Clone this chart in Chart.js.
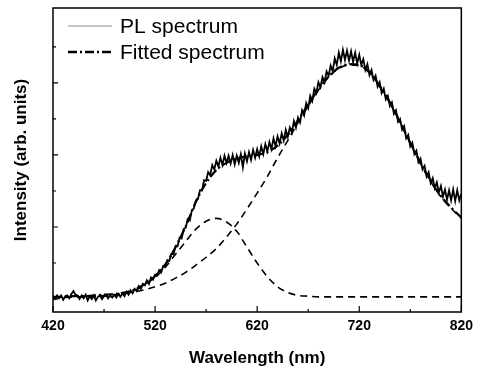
<!DOCTYPE html>
<html>
<head>
<meta charset="utf-8">
<script src="https://cdn.jsdelivr.net/npm/chart.js@4"></script>
<style>
  body { margin: 0; background: #fff; }
  #wrap { width: 479px; height: 370px; }
</style>
</head>
<body>
<div id="wrap"><canvas id="plChart" width="479" height="370"></canvas></div>
<script>
// PL spectrum, sampled every 2 nm from 420 to 820 nm
const plStart = 420;
const plStep = 2;
const plIntensity = [
  0.03, 0.00, 0.05, 0.01, 0.05, -0.01, 0.04, 0.05, 0.01, 0.07,
  0.11, 0.06, 0.05, 0.00, 0.05, 0.01, 0.06, -0.02, 0.04, 0.00,
  0.05, -0.02, 0.03, 0.05, 0.00, 0.04, 0.06, 0.01, 0.05, 0.02,
  0.06, 0.02, 0.07, 0.03, 0.08, 0.04, 0.10, 0.06, 0.12, 0.08,
  0.14, 0.11, 0.18, 0.14, 0.21, 0.19, 0.26, 0.21, 0.30, 0.27,
  0.34, 0.33, 0.40, 0.37, 0.46, 0.45, 0.54, 0.53, 0.63, 0.62,
  0.73, 0.73, 0.85, 0.84, 0.97, 0.99, 1.11, 1.09, 1.23, 1.26,
  1.37, 1.39, 1.51, 1.51, 1.65, 1.64, 1.76, 1.72, 1.86, 1.80,
  1.92, 1.84, 1.96, 1.86, 1.99, 1.89, 1.99, 1.88, 2.00, 1.87,
  1.99, 1.89, 2.01, 1.83, 2.02, 1.91, 2.04, 1.93, 2.07, 1.96,
  2.08, 1.98, 2.12, 2.01, 2.15, 2.05, 2.18, 2.08, 2.23, 2.12,
  2.26, 2.16, 2.30, 2.20, 2.35, 2.25, 2.38, 2.31, 2.47, 2.38,
  2.52, 2.45, 2.62, 2.55, 2.72, 2.65, 2.82, 2.75, 2.92, 2.86,
  3.01, 2.94, 3.08, 3.01, 3.16, 3.10, 3.24, 3.16, 3.34, 3.25,
  3.42, 3.30, 3.46, 3.32, 3.45, 3.31, 3.44, 3.29, 3.42, 3.27,
  3.39, 3.25, 3.33, 3.18, 3.26, 3.11, 3.18, 3.04, 3.10, 2.95,
  3.01, 2.86, 2.92, 2.77, 2.82, 2.68, 2.73, 2.57, 2.62, 2.46,
  2.50, 2.35, 2.40, 2.23, 2.28, 2.12, 2.17, 2.01, 2.06, 1.90,
  1.95, 1.80, 1.85, 1.70, 1.76, 1.61, 1.68, 1.54, 1.62, 1.48,
  1.57, 1.42, 1.52, 1.38, 1.51, 1.37, 1.52, 1.36, 1.51, 1.37,
  1.46
];

// fitted curves, every 10 nm
const fitWavelengths = [
  420, 430, 440, 450, 460, 470, 480, 490, 500, 510,
  520, 530, 540, 550, 560, 570, 580, 590, 600, 610,
  620, 630, 640, 650, 660, 670, 680, 690, 700, 710,
  720, 730, 740, 750, 760, 770, 780, 790, 800, 810, 820
];
const fitTotal = [
  0.03, 0.03, 0.04, 0.04, 0.05, 0.06, 0.07, 0.09, 0.13, 0.21,
  0.32, 0.48, 0.72, 1.01, 1.35, 1.61, 1.79, 1.89, 1.95, 1.98,
  2.00, 2.04, 2.13, 2.28, 2.48, 2.70, 2.91, 3.09, 3.21, 3.26,
  3.25, 3.15, 2.96, 2.73, 2.46, 2.17, 1.89, 1.64, 1.43, 1.27, 1.13
];
const fitPeak1 = [
  0.03, 0.03, 0.03, 0.03, 0.03, 0.04, 0.05, 0.08, 0.12, 0.20,
  0.30, 0.44, 0.62, 0.80, 0.97, 1.08, 1.12, 1.07, 0.94, 0.72,
  0.50, 0.31, 0.17, 0.09, 0.05, 0.04, 0.03, 0.03, 0.03, 0.03,
  0.03, 0.03, 0.03, 0.03, 0.03, 0.03, 0.03, 0.03, 0.03, 0.03, 0.03
];
const fitPeak2 = [
  0.02, 0.02, 0.03, 0.03, 0.04, 0.05, 0.06, 0.08, 0.10, 0.13,
  0.17, 0.22, 0.29, 0.37, 0.47, 0.58, 0.70, 0.86, 1.04, 1.25,
  1.47, 1.70, 1.96, 2.20, 2.45, 2.68, 2.90, 3.08, 3.20, 3.25,
  3.24, 3.14, 2.95, 2.72, 2.45, 2.16, 1.88, 1.63, 1.42, 1.26, 1.12
];

const xMajorTicks = [420, 520, 620, 720, 820];
const xMinorTicks = [470, 570, 670, 770];
const yMajorTicks = [0, 1, 2, 3];
const yMinorTicks = [0.5, 1.5, 2.5, 3.5];

const FONT = "Arial, 'Liberation Sans', Helvetica, sans-serif";

function toPoints(xs, ys) {
  return ys.map((y, i) => ({ x: xs[i], y: y }));
}

const plPoints = plIntensity.map((y, i) => ({ x: plStart + i * plStep, y: y }));

// frame + inward tick marks
const framePlugin = {
  id: "frame",
  afterDatasetsDraw(chart) {
    const { ctx, chartArea: a, scales } = chart;
    ctx.save();
    ctx.strokeStyle = "#000";
    ctx.lineWidth = 1.5;
    ctx.strokeRect(a.left, a.top, a.right - a.left, a.bottom - a.top);
    ctx.lineWidth = 1.2;
    ctx.beginPath();
    xMajorTicks.forEach((v) => {
      const px = scales.x.getPixelForValue(v);
      ctx.moveTo(px, a.bottom);
      ctx.lineTo(px, a.bottom - 6);
    });
    xMinorTicks.forEach((v) => {
      const px = scales.x.getPixelForValue(v);
      ctx.moveTo(px, a.bottom);
      ctx.lineTo(px, a.bottom - 3);
    });
    yMajorTicks.forEach((v) => {
      const py = scales.y.getPixelForValue(v);
      ctx.moveTo(a.left, py);
      ctx.lineTo(a.left + 5, py);
    });
    yMinorTicks.forEach((v) => {
      const py = scales.y.getPixelForValue(v);
      ctx.moveTo(a.left, py);
      ctx.lineTo(a.left + 3, py);
    });
    ctx.stroke();
    ctx.restore();
  },
};

// legend drawn inside the plot, top left
const insideLegend = {
  id: "insideLegend",
  afterDraw(chart) {
    const { ctx, chartArea: a } = chart;
    const items = chart.data.datasets.filter((d) => d.legendColor);
    ctx.save();
    items.forEach((d, i) => {
      const y = a.top + 18 + i * 26;
      ctx.beginPath();
      ctx.strokeStyle = d.legendColor;
      ctx.lineWidth = d.legendWidth;
      ctx.setLineDash(d.borderDash || []);
      ctx.moveTo(a.left + 15, y);
      ctx.lineTo(a.left + 59, y);
      ctx.stroke();
      ctx.setLineDash([]);
      ctx.fillStyle = "#000";
      ctx.font = "21px " + FONT;
      ctx.textBaseline = "middle";
      ctx.fillText(d.label, a.left + 67, y + 1);
    });
    ctx.restore();
  },
};

const ctx = document.getElementById("plChart").getContext("2d");
const chart = new Chart(ctx, {
  type: "line",
  data: {
    datasets: [
      {
        label: "PL spectrum",
        data: plPoints,
        borderColor: "#000",
        borderWidth: 1.8,
        pointRadius: 0,
        tension: 0,
        order: 0,
        legendColor: "#8a8a8a",
        legendWidth: 1,
      },
      {
        label: "Fitted spectrum",
        data: toPoints(fitWavelengths, fitTotal),
        borderColor: "#000",
        borderWidth: 2.2,
        borderDash: [9, 3, 2, 3],
        pointRadius: 0,
        cubicInterpolationMode: "monotone",
        order: 1,
        legendColor: "#000",
        legendWidth: 2.5,
      },
      {
        label: "Peak 1",
        data: toPoints(fitWavelengths, fitPeak1),
        borderColor: "#000",
        borderWidth: 1.6,
        borderDash: [7, 5],
        pointRadius: 0,
        cubicInterpolationMode: "monotone",
        order: 2,
      },
      {
        label: "Peak 2",
        data: toPoints(fitWavelengths, fitPeak2),
        borderColor: "#000",
        borderWidth: 1.6,
        borderDash: [7, 5],
        pointRadius: 0,
        cubicInterpolationMode: "monotone",
        order: 2,
      },
    ],
  },
  options: {
    responsive: false,
    animation: false,
    layout: { padding: { top: 8, right: 14, left: 0, bottom: 0 } },
    plugins: {
      legend: { display: false },
      tooltip: { enabled: false },
    },
    scales: {
      x: {
        type: "linear",
        min: 420,
        max: 820,
        afterBuildTicks: (scale) => {
          scale.ticks = xMajorTicks.map((v) => ({ value: v }));
        },
        ticks: {
          color: "#000",
          padding: 6,
          maxRotation: 0,
          font: { family: FONT, size: 14, weight: "bold" },
        },
        grid: { display: false, drawTicks: false },
        border: { display: false },
        title: {
          display: true,
          text: "Wavelength (nm)",
          color: "#000",
          font: { family: FONT, size: 17, weight: "bold" },
          padding: { top: 0, bottom: 1 },
        },
        afterFit: (scale) => {
          scale.height = 58;
        },
      },
      y: {
        min: -0.18,
        max: 4.04,
        ticks: { display: false },
        grid: { display: false, drawTicks: false },
        border: { display: false },
        title: {
          display: true,
          text: "Intensity (arb. units)",
          color: "#000",
          font: { family: FONT, size: 17, weight: "bold" },
          padding: { top: 11, bottom: 0 },
        },
        afterFit: (scale) => {
          scale.width = 53;
        },
      },
    },
  },
  plugins: [framePlugin, insideLegend],
});
</script>
</body>
</html>
